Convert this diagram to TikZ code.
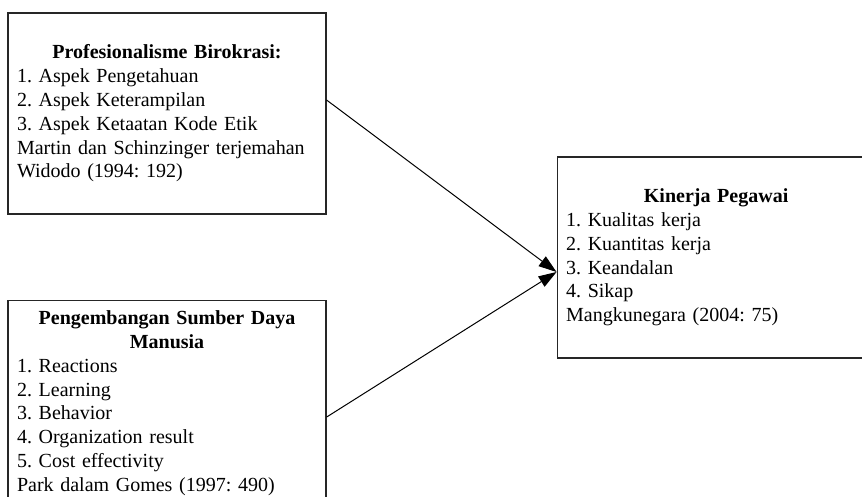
\documentclass[tikz,border=0pt]{standalone}
\usepackage{fontspec}
\setmainfont{Liberation Serif}
\usetikzlibrary{arrows.meta,positioning,calc}

\begin{document}
\begin{tikzpicture}[
  x=1pt, y=1pt,
  box/.style={draw=black!85, line width=1.1pt, align=left, text width=300pt, inner sep=9pt, minimum height=201pt, font=\fontsize{20}{23.8}\selectfont\frenchspacing},
  arr/.style={-{Triangle[length=18pt,width=12pt]}, line width=1pt}
]
\useasboundingbox (0,0) rectangle (862,497);
\clip (0,0) rectangle (862,497);

\node[box] (prof) at (167,383.5) {{\centering\textbf{Profesionalisme Birokrasi:}\par}1. Aspek Pengetahuan\\2. Aspek Keterampilan\\3. Aspek Ketaatan Kode Etik\\Martin dan Schinzinger terjemahan\\Widodo (1994: 192)};
\node[box, minimum height=206pt, below=85pt of prof] (psdm) {{\centering\textbf{Pengembangan Sumber Daya}\\\textbf{Manusia}\par}1. Reactions\\2. Learning\\3. Behavior\\4. Organization result\\5. Cost effectivity\\Park dalam Gomes (1997: 490)};
\node[box, right=230pt of prof, yshift=-144pt] (kinerja) {{\centering\textbf{Kinerja Pegawai}\par}1. Kualitas kerja\\2. Kuantitas kerja\\3. Keandalan\\4. Sikap\\Mangkunegara (2004: 75)};

\draw[arr] ($(prof.east)+(0,13.5)$) -- ($(kinerja.west)+(0,-14.5)$);
\draw[arr] ($(psdm.east)+(0,-14)$) -- ($(kinerja.west)+(0,-14.5)$);

\end{tikzpicture}
\end{document}
